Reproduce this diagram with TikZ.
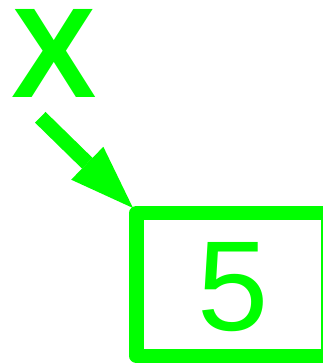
\documentclass[tikz,border=0pt]{standalone}
\usepackage{fontspec}
\setmainfont{Liberation Sans}
\usetikzlibrary{arrows.meta}
\definecolor{lime}{RGB}{0,255,0}
\tikzset{
  lbl/.style={text=lime, inner sep=0pt, outer sep=0pt, anchor=base, text height=92pt, text depth=0pt, font=\fontsize{128}{128}\selectfont},
  boxst/.style={draw=lime, line width=14.5pt, line join=round, outer sep=0pt, minimum width=191.5pt, minimum height=143pt, inner sep=0pt},
  ptr/.style={draw=lime, line width=15pt, -{Triangle[length=64pt,width=46pt,line width=0pt]}}
}
\begin{document}
\begin{tikzpicture}[x=1pt,y=1pt]
\useasboundingbox (0,0) rectangle (323,364);
\node[lbl, font=\fontsize{128}{128}\selectfont\bfseries] (xlab) at (54,266) {X};
\node[boxst] (box) at (232.25,79.5) {};
\node[lbl] (five) at (233,33) {5};
\coordinate (tail) at (40.3,246.7);
\draw[ptr] (tail) -- ([shift={(-3.5,5)}]box.north west);
\end{tikzpicture}
\end{document}
